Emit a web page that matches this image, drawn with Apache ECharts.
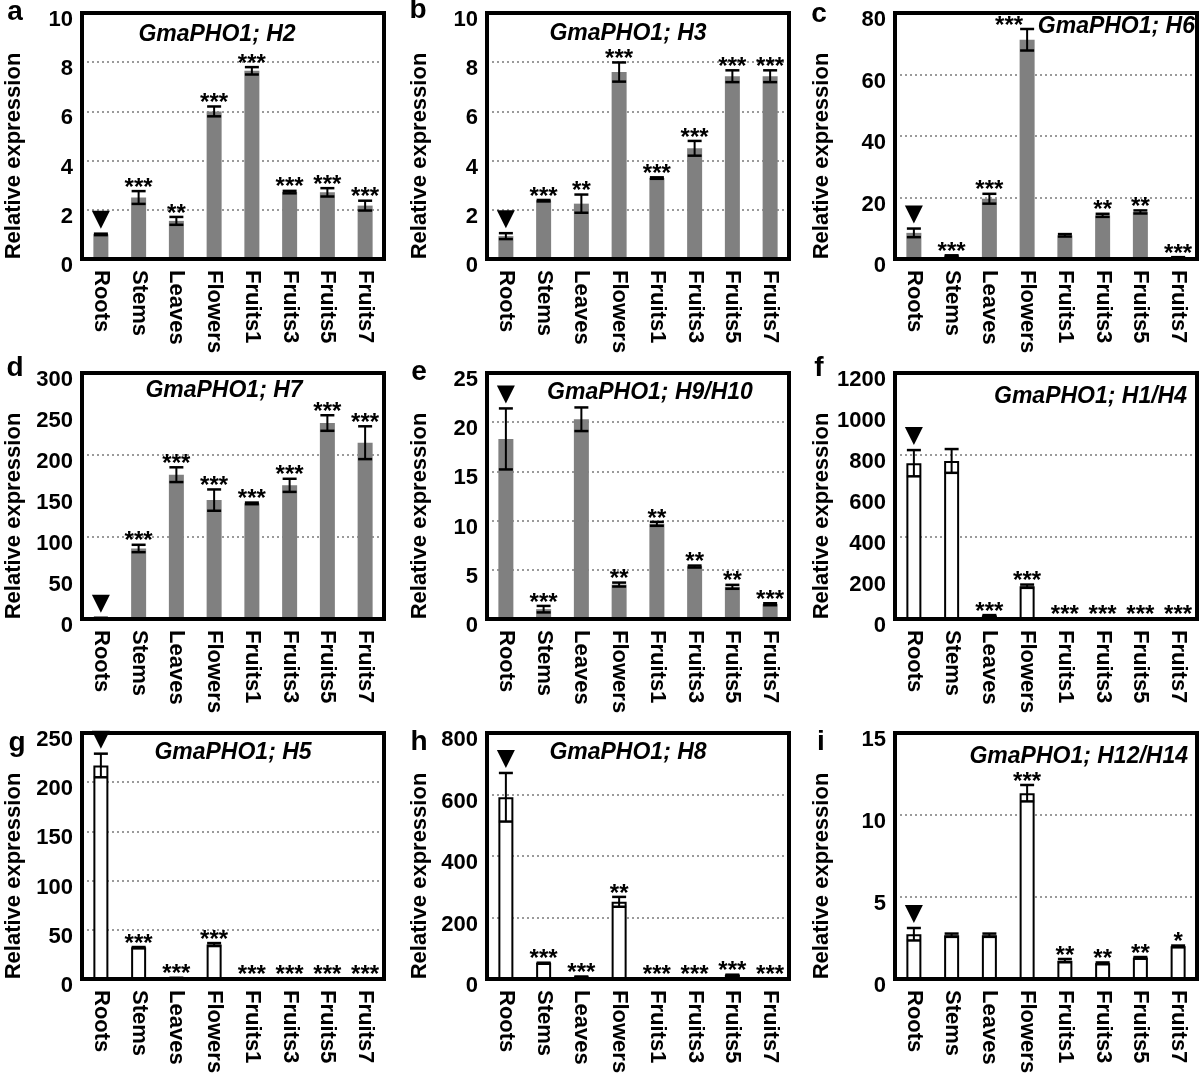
<!DOCTYPE html>
<html>
<head>
<meta charset="utf-8">
<script src="https://cdn.jsdelivr.net/npm/echarts@6/dist/echarts.min.js"></script>
<style>
html,body{margin:0;padding:0;background:#fff;}
#c{width:1200px;height:1079px;}
</style>
</head>
<body>
<div id="c"></div>
<script>
// ---------- DATA ----------
const CATEGORIES = ['Roots', 'Stems', 'Leaves', 'Flowers', 'Fruits1', 'Fruits3', 'Fruits5', 'Fruits7'];
const PANEL_LETTERS = ['a', 'b', 'c', 'd', 'e', 'f', 'g', 'h', 'i'];
const PANEL_TITLES = ['GmaPHO1; H2', 'GmaPHO1; H3', 'GmaPHO1; H6', 'GmaPHO1; H7', 'GmaPHO1; H9/H10',
                      'GmaPHO1; H1/H4', 'GmaPHO1; H5', 'GmaPHO1; H8', 'GmaPHO1; H12/H14'];
const Y_AXIS_NAME = 'Relative expression';
const Y_MAX = [10, 10, 80, 300, 25, 1200, 250, 800, 15];
const Y_TICK_STEP = [2, 2, 20, 50, 5, 200, 50, 200, 5];
const Y_GRID_STEP = [2, 2, 20, 100, 5, 400, 50, 200, 5];

const VAL_A = [1.0, 2.5, 1.55, 6.0, 7.65, 2.72, 2.71, 2.17];
const ERR_A = [0.03, 0.26, 0.16, 0.2, 0.15, 0.05, 0.17, 0.2];
const SIG_A = ['', '***', '**', '***', '***', '***', '***', '***'];

const VAL_B = [0.93, 2.37, 2.25, 7.6, 3.29, 4.5, 7.43, 7.43];
const ERR_B = [0.12, 0.03, 0.37, 0.39, 0.03, 0.3, 0.24, 0.24];
const SIG_B = ['', '***', '**', '***', '***', '***', '***', '***'];

const VAL_C = [8.5, 1.0, 19.6, 71.3, 7.7, 14.2, 15.3, 0.5];
const ERR_C = [1.4, 0.2, 1.6, 3.5, 0.4, 0.5, 0.5, 0.1];
const SIG_C = ['', '***', '***', '***', '', '**', '**', '***'];

const VAL_D = [1, 86, 176, 145, 141, 163, 239, 215];
const ERR_D = [0.5, 4.5, 9, 13, 1, 8, 9.5, 20];
const SIG_D = ['', '***', '***', '***', '***', '***', '***', '***'];

const VAL_E = [18.3, 1.0, 20.3, 3.5, 9.67, 5.33, 3.27, 1.5];
const ERR_E = [3.1, 0.33, 1.2, 0.2, 0.2, 0.1, 0.2, 0.1];
const SIG_E = ['', '***', '', '**', '**', '**', '**', '***'];

const VAL_F = [760, 771, 16, 160, 2, 1, 2, 2];
const ERR_F = [64, 58, 3, 8, 0.5, 0.5, 0.5, 0.5];
const SIG_F = ['', '', '***', '***', '***', '***', '***', '***'];

const VAL_G = [217, 32, 1, 35, 0.5, 0.5, 0.5, 0.5];
const ERR_G = [12, 0.5, 0.2, 1.5, 0.1, 0.1, 0.1, 0.1];
const SIG_G = ['', '***', '***', '***', '***', '***', '***', '***'];

const VAL_H = [591, 52, 7, 251, 1, 1, 13, 1];
const ERR_H = [79, 1, 1, 16, 0.3, 0.3, 1, 0.3];
const SIG_H = ['', '***', '***', '**', '***', '***', '***', '***'];

const VAL_I = [2.73, 2.67, 2.67, 11.33, 1.12, 0.96, 1.29, 1.99];
const ERR_I = [0.38, 0.1, 0.1, 0.5, 0.1, 0.05, 0.05, 0.05];
const SIG_I = ['', '', '', '***', '**', '**', '**', '*'];

const MARKED_CATEGORY = 'Roots';

const VALUES = [VAL_A, VAL_B, VAL_C, VAL_D, VAL_E, VAL_F, VAL_G, VAL_H, VAL_I];
const ERRORS = [ERR_A, ERR_B, ERR_C, ERR_D, ERR_E, ERR_F, ERR_G, ERR_H, ERR_I];
const SIGNIF = [SIG_A, SIG_B, SIG_C, SIG_D, SIG_E, SIG_F, SIG_G, SIG_H, SIG_I];

// ---------- LAYOUT / STYLE ----------
const FONT = '"Liberation Sans", Arial, sans-serif';
const GRID_W = 302, GRID_H = 246;
const LAYOUT = [
  {left: 82,  top: 13,  tx: 217,  ty: 35,  talign: 'center', lx: 15,  ly: 12,  nx: 14},
  {left: 487, top: 13,  tx: 628,  ty: 34,  talign: 'center', lx: 418, ly: 10,  nx: 420},
  {left: 895, top: 13,  tx: 1195, ty: 27,  talign: 'right',  lx: 819, ly: 14,  nx: 822},
  {left: 82,  top: 373, tx: 224,  ty: 391, talign: 'center', lx: 15,  ly: 368, nx: 14},
  {left: 487, top: 373, tx: 650,  ty: 393, talign: 'center', lx: 419, ly: 372, nx: 420},
  {left: 895, top: 373, tx: 1187, ty: 397, talign: 'right',  lx: 819, ly: 368, nx: 822},
  {left: 82,  top: 733, tx: 233,  ty: 753, talign: 'center', lx: 17,  ly: 743, nx: 14},
  {left: 487, top: 733, tx: 628,  ty: 753, talign: 'center', lx: 419, ly: 742, nx: 420},
  {left: 895, top: 733, tx: 1188, ty: 757, talign: 'right',  lx: 821, ly: 742, nx: 822}
];
const HOLLOW = [false, false, false, false, false, true, true, true, true];
// star labels nudged sideways to avoid a title (panel index, category index, pixel shift)
const STAR_NUDGE = [{panel: 2, cat: 3, dx: -18}];

const chart = echarts.init(document.getElementById('c'), null, {renderer: 'canvas'});

const grids = [], xAxes = [], yAxes = [], series = [], graphics = [];

function starShift(p, i) {
  for (const n of STAR_NUDGE) { if (n.panel === p && n.cat === i) return n.dx; }
  return 0;
}

function makeRender(p) {
  return function (params, api) {
    const i = api.value(0), v = api.value(1), e = api.value(2);
    const x = api.coord([i, v])[0];
    const yTop = api.coord([i, v + e])[1];
    const yBot = api.coord([i, Math.max(v - e, 0)])[1];
    const hw = 7;
    const children = [
      {type: 'line', shape: {x1: x, y1: yTop, x2: x, y2: yBot}, style: {stroke: '#000', lineWidth: 2}},
      {type: 'line', shape: {x1: x - hw, y1: yTop, x2: x + hw, y2: yTop}, style: {stroke: '#000', lineWidth: 2.5}},
      {type: 'line', shape: {x1: x - hw, y1: yBot, x2: x + hw, y2: yBot}, style: {stroke: '#000', lineWidth: 2.5}}
    ];
    const sig = SIGNIF[p][params.dataIndex];
    if (sig) {
      children.push({type: 'text', style: {text: sig, x: x + starShift(p, params.dataIndex), y: yTop - 3,
        align: 'center', verticalAlign: 'middle', font: 'bold 24px ' + FONT, fill: '#000'}});
    }
    if (CATEGORIES[params.dataIndex] === MARKED_CATEGORY) {
      children.push({type: 'polygon', shape: {points: [[x - 9, yTop - 23], [x + 9, yTop - 23], [x, yTop - 5]]},
        style: {fill: '#000'}});
    }
    return {type: 'group', children: children};
  };
}

for (let p = 0; p < 9; p++) {
  const L = LAYOUT[p];
  grids.push({left: L.left, top: L.top, width: GRID_W, height: GRID_H, containLabel: false, outerBoundsMode: 'none'});
  xAxes.push({
    type: 'category', gridIndex: p, data: CATEGORIES,
    axisLine: {show: false}, axisTick: {show: false},
    axisLabel: {rotate: -90, margin: 11, interval: 0, fontSize: 22, fontWeight: 'bold', color: '#000', fontFamily: FONT}
  });
  yAxes.push({
    type: 'value', gridIndex: p, min: 0, max: Y_MAX[p], interval: Y_TICK_STEP[p],
    axisLine: {show: false}, axisTick: {show: false}, splitLine: {show: false},
    axisLabel: {fontSize: 22, fontWeight: 'bold', color: '#000', fontFamily: FONT, margin: 9,
      verticalAlign: 'top', lineHeight: 14, formatter: function (v) { return String(v); }}
  });
  yAxes.push({
    type: 'value', gridIndex: p, min: 0, max: Y_MAX[p], interval: Y_GRID_STEP[p], position: 'right',
    axisLine: {show: false}, axisTick: {show: false}, axisLabel: {show: false},
    splitLine: {show: true, lineStyle: {color: '#9a9a9a', type: [2, 3], width: 2}}
  });
  series.push({
    type: 'bar', xAxisIndex: p, yAxisIndex: 2 * p, data: VALUES[p], barWidth: 15, silent: true,
    itemStyle: HOLLOW[p] ? {color: '#fff', borderColor: '#000', borderWidth: 2} : {color: '#808080'}
  });
  series.push({
    type: 'custom', xAxisIndex: p, yAxisIndex: 2 * p, z: 5, silent: true, clip: false,
    data: VALUES[p].map((v, i) => [i, v, ERRORS[p][i]]),
    encode: {x: 0, y: 1},
    renderItem: makeRender(p)
  });
  graphics.push({type: 'rect', z: 100, silent: true,
    shape: {x: L.left, y: L.top, width: GRID_W, height: GRID_H},
    style: {fill: null, stroke: '#000', lineWidth: 4}});
  graphics.push({type: 'text', z: 101, silent: true, x: L.tx, y: L.ty,
    style: {text: PANEL_TITLES[p], font: 'italic bold 23px ' + FONT, fill: '#000', align: L.talign, verticalAlign: 'middle'}});
  graphics.push({type: 'text', z: 101, silent: true, x: L.lx, y: L.ly,
    style: {text: PANEL_LETTERS[p], font: 'bold 28px ' + FONT, fill: '#000', align: 'center', verticalAlign: 'middle'}});
  graphics.push({type: 'text', z: 101, silent: true, x: L.nx, y: L.top + 143, rotation: Math.PI / 2,
    style: {text: Y_AXIS_NAME, font: 'bold 22px ' + FONT, fill: '#000', align: 'center', verticalAlign: 'middle'}});
}

chart.setOption({
  animation: false,
  backgroundColor: '#fff',
  grid: grids, xAxis: xAxes, yAxis: yAxes, series: series, graphic: graphics
});
</script>
</body>
</html>
